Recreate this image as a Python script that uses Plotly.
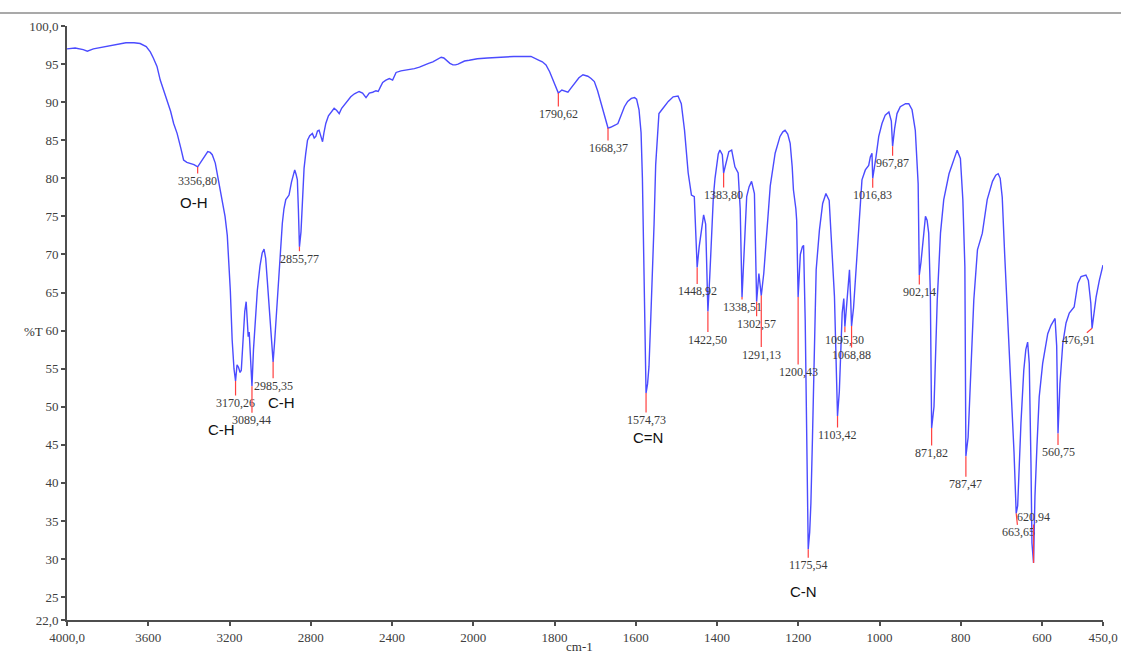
import numpy as np
import plotly.graph_objects as go

# ---------------- data ----------------
wavenumber = [
    4000, 3960, 3920, 3900, 3870, 3830, 3790, 3750, 3710, 3670, 3640, 3610, 3590, 3575, 3557, 3541,
    3525, 3508, 3490, 3475, 3458, 3440, 3426, 3410, 3393, 3375, 3356.8, 3340, 3327, 3307, 3295, 3285,
    3270, 3261, 3248, 3236, 3222, 3211, 3203, 3196, 3187, 3178, 3170.26, 3163, 3156, 3148, 3142, 3135,
    3125, 3118, 3112, 3108, 3103, 3097, 3089.44, 3082, 3072, 3063, 3050, 3039, 3030, 3022, 3014, 3006,
    2998, 2990, 2985.35, 2978, 2968, 2956, 2948, 2940, 2932, 2923, 2915, 2907, 2895, 2885, 2879, 2872,
    2866, 2861, 2855.77, 2848, 2841, 2833, 2825, 2816, 2805, 2792, 2783, 2775, 2767, 2759, 2750, 2742,
    2735, 2726, 2713, 2701, 2685, 2672, 2660, 2648, 2636, 2620, 2603, 2585, 2562, 2545, 2528, 2512,
    2495, 2479, 2468, 2457, 2446, 2430, 2413, 2397, 2380, 2356, 2331, 2310, 2290, 2265, 2241, 2220,
    2199, 2180, 2158, 2145, 2133, 2115, 2100, 2088, 2075, 2060, 2043, 2020, 1990, 1965, 1940, 1900,
    1858, 1848, 1838, 1830, 1821, 1812, 1804, 1796, 1790.62, 1782, 1776, 1767, 1760, 1751, 1740, 1730,
    1718, 1710, 1702, 1694, 1685, 1678, 1673, 1668.37, 1662, 1656, 1650, 1644, 1636, 1628, 1620, 1611,
    1603, 1598, 1592, 1587, 1583.7, 1580, 1576.5, 1574.73, 1571, 1567.5, 1563, 1559, 1555, 1551, 1547, 1543,
    1533, 1520, 1508, 1496, 1488, 1480, 1471, 1463, 1456, 1451, 1448.92, 1444, 1438, 1433, 1428, 1425,
    1422.5, 1418, 1413, 1409, 1405, 1401, 1397, 1393, 1387, 1383.8, 1380, 1377, 1371, 1364, 1360, 1356,
    1348, 1343, 1338.51, 1333, 1327, 1321, 1315, 1308, 1305, 1302.57, 1297, 1291.13, 1285, 1278, 1269, 1257,
    1245, 1238, 1232.6, 1226, 1220, 1215, 1212, 1206, 1204, 1200.43, 1195, 1190, 1187, 1183, 1180, 1177.5,
    1175.54, 1172, 1169, 1165, 1161, 1156, 1148, 1140, 1132, 1124, 1119, 1111, 1105.5, 1103.42, 1099, 1096,
    1092, 1088, 1085.3, 1080, 1074, 1071, 1068.88, 1064, 1059.7, 1051.4, 1043.3, 1035, 1026.7, 1022.7, 1018.6, 1016.83,
    1012, 1008.7, 1002, 994, 986, 977, 971, 967.87, 963, 957, 949, 936, 928, 920, 912, 905,
    902.14, 898, 891, 887, 883, 879, 875, 871.82, 866, 862, 858, 850, 842, 829, 817, 809,
    801, 795, 790, 787.47, 782, 778, 773, 768, 759, 747, 735, 722, 714, 708, 703, 698,
    692, 685, 677, 669, 663.65, 660, 656, 652, 645, 640, 635.5, 631.5, 627.3, 624.9, 620.94, 617.5,
    612.6, 607, 598.5, 586, 578, 568, 564, 560.75, 556, 553, 549, 541, 533, 521, 512, 504,
    492, 486, 480, 476.91, 467, 459, 450,
]
transmittance = [
    97.0, 97.1, 96.9, 96.7, 97.0, 97.2, 97.4, 97.6, 97.8, 97.8, 97.7, 97.3, 96.6, 95.8, 94.7, 92.9,
    91.6, 90.3, 88.8, 87.2, 85.9, 84.0, 82.4, 82.1, 82.0, 81.8, 81.5, 82.2, 82.8, 83.5, 83.4, 83.1,
    82.0, 80.7, 79.0, 77.2, 75.0, 72.5, 69.0, 65.3, 58.8, 55.0, 53.4, 55.5, 55.2, 54.5, 54.8, 58.0,
    62.5, 63.8, 61.5, 59.2, 59.8, 56.0, 52.7, 57.5, 62.0, 65.3, 68.5, 70.2, 70.7, 69.5, 66.6, 63.5,
    60.5, 57.5, 55.9, 58.5, 63.0, 67.5, 71.0, 74.1, 76.0, 77.2, 77.5, 77.8, 79.5, 80.8, 81.1, 80.5,
    79.8, 76.0, 71.0, 73.0, 76.3, 81.3, 83.2, 85.0, 85.6, 85.9, 85.3, 85.5, 86.2, 86.3, 85.5, 84.8,
    86.0, 87.2, 88.2, 88.7, 89.2, 88.9, 88.5, 89.2, 89.6, 90.2, 90.7, 91.1, 91.4, 91.2, 90.6, 91.2,
    91.3, 91.5, 91.4, 92.0, 92.6, 92.9, 93.1, 92.9, 93.9, 94.1, 94.2, 94.3, 94.4, 94.6, 94.9, 95.1,
    95.3, 95.6, 95.9, 95.8, 95.5, 95.1, 94.9, 94.9, 95.0, 95.2, 95.4, 95.5, 95.7, 95.8, 95.9, 96.0,
    96.0, 95.8, 95.5, 95.3, 94.9, 94.0, 92.9, 92.0, 91.2, 91.6, 91.5, 91.3, 91.8, 92.5, 93.2, 93.6,
    93.4, 93.1, 92.7, 91.5, 89.8, 88.2, 87.2, 86.6, 86.7, 86.8, 87.0, 87.2, 88.3, 89.4, 90.1, 90.5,
    90.6, 90.4, 89.0, 86.0, 80.0, 66.5, 55.0, 51.8, 53.0, 55.3, 61.8, 67.1, 74.0, 81.8, 85.5, 88.5,
    89.2, 90.1, 90.7, 90.8, 89.8, 86.3, 80.7, 77.8, 77.6, 72.3, 68.3, 71.0, 73.6, 75.2, 74.0, 68.5,
    62.5, 67.0, 73.0, 77.6, 80.0, 82.0, 83.2, 83.7, 83.1, 80.7, 81.5, 82.5, 83.5, 83.7, 82.8, 81.5,
    80.7, 76.0, 64.4, 70.0, 77.6, 78.9, 79.6, 78.0, 71.0, 63.8, 67.5, 64.6, 67.5, 73.0, 79.0, 83.3,
    85.5, 86.1, 86.3, 85.8, 84.6, 81.5, 78.5, 76.0, 74.5, 64.4, 70.0, 71.0, 71.2, 61.4, 48.0, 37.8,
    31.3, 33.5, 37.3, 46.1, 57.0, 68.0, 73.2, 76.7, 78.0, 77.1, 72.3, 64.5, 53.0, 48.8, 52.0, 57.0,
    62.3, 64.2, 60.5, 64.0, 68.0, 64.0, 60.6, 63.0, 66.6, 74.5, 79.8, 81.1, 81.7, 82.8, 83.3, 80.0,
    81.5, 82.8, 85.5, 87.2, 88.3, 88.7, 87.5, 84.2, 86.5, 88.5, 89.4, 89.8, 89.8, 89.0, 86.3, 79.3,
    67.3, 69.0, 72.8, 75.0, 74.5, 72.8, 65.0, 47.2, 50.0, 56.1, 64.0, 72.8, 77.2, 80.6, 82.6, 83.7,
    82.6, 77.2, 68.4, 43.5, 46.0, 50.9, 57.5, 64.0, 70.6, 72.8, 77.2, 79.6, 80.4, 80.6, 80.0, 77.5,
    70.0, 61.0, 53.0, 44.0, 36.0, 37.0, 42.6, 47.8, 54.8, 57.5, 58.5, 55.7, 42.6, 32.1, 29.5, 38.2,
    44.8, 51.3, 55.7, 59.6, 60.7, 61.6, 58.0, 46.5, 53.0, 55.7, 58.3, 61.0, 62.3, 63.1, 66.2, 67.1,
    67.3, 66.6, 63.6, 60.3, 64.4, 66.6, 68.6,
]

# labelled peaks: position (cm-1), %T at the minimum, printed label
peak_wn = [3356.80, 3170.26, 3089.44, 2985.35, 2855.77, 1790.62, 1668.37, 1574.73, 1448.92, 1422.50,
           1383.80, 1338.51, 1302.57, 1291.13, 1200.43, 1175.54, 1103.42, 1085.30, 1068.88, 1016.83,
           967.87, 902.14, 871.82, 787.47, 663.65, 620.94, 560.75, 476.91]
peak_t = [81.5, 53.4, 52.7, 55.9, 71.0, 91.2, 86.6, 51.8, 68.3, 62.5,
          80.7, 64.4, 63.8, 64.6, 64.4, 31.3, 48.8, 60.5, 60.6, 80.0,
          84.2, 67.3, 47.2, 43.5, 36.0, 29.5, 46.5, 60.3]
peak_labels = ["3356,80", "3170,26", "3089,44", "2985,35", "2855,77", "1790,62", "1668,37", "1574,73",
               "1448,92", "1422,50", "1383,80", "1338,51", "1302,57", "1291,13", "1200,43", "1175,54",
               "1103,42", "1095,30", "1068,88", "1016,83", "967,87", "902,14", "871,82", "787,47",
               "663,65", "620,94", "560,75", "476,91"]
# label offsets from the peak, in pixels (dx, dy downwards)
peak_offsets = [(0, 14), (0, 22), (0, 34), (0, 24), (0, 12), (0, 21), (0, 20), (0, 27), (0, 24), (0, 28),
                (0, 22), (0, 10), (0, 22), (0, 59), (0, 75), (0, 16), (0, 19), (0, 13), (0, 29), (0, 17),
                (0, 17), (0, 17), (0, 25), (0, 28), (2, 19), (0, -46), (0, 19), (-14, 12)]

# functional-group labels: text, wavenumber, %T
group_text = ["O-H", "C-H", "C-H", "C=N", "C-N"]
group_wn = [3375, 3237, 2946, 1570, 1188]
group_t = [76.8, 47.0, 50.6, 45.9, 25.7]

xtick_values = [4000, 3600, 3200, 2800, 2400, 2000, 1800, 1600, 1400, 1200, 1000, 800, 600, 450]
xtick_labels = ["4000,0", "3600", "3200", "2800", "2400", "2000", "1800", "1600", "1400", "1200",
                "1000", "800", "600", "450,0"]
ytick_values = [22, 25, 30, 35, 40, 45, 50, 55, 60, 65, 70, 75, 80, 85, 90, 95, 100]
ytick_labels = ["22,0", "25", "30", "35", "40", "45", "50", "55", "60", "65", "70", "75", "80",
                "85", "90", "95", "100,0"]


# the instrument's axis doubles its scale below 2000 cm-1
def axis_pos(wn):
    wn = np.asarray(wn, dtype=float)
    return np.where(wn >= 2000, wn, 2 * wn - 2000)


SERIF = "Liberation Serif, Times New Roman, serif"
SANS = "Liberation Sans, Arial, sans-serif"

fig = go.Figure()
fig.add_trace(go.Scatter(
    x=axis_pos(wavenumber), y=transmittance, mode="lines",
    line=dict(color="#4b4bff", width=1.4), hoverinfo="skip", showlegend=False,
))

annotations = []
for wn, t, lab, (dx, dy) in zip(peak_wn, peak_t, peak_labels, peak_offsets):
    annotations.append(dict(
        x=float(axis_pos(wn)), y=t, xref="x", yref="y", text=lab,
        showarrow=True, arrowhead=0, arrowwidth=1.2, arrowcolor="#ff4040",
        ax=dx, ay=dy, standoff=0, startstandoff=0,
        font=dict(family=SERIF, size=12, color="#3a3a3a"), borderpad=0,
    ))
for txt, wn, t in zip(group_text, group_wn, group_t):
    annotations.append(dict(
        x=float(axis_pos(wn)), y=t, xref="x", yref="y", text=txt, showarrow=False,
        font=dict(family=SANS, size=15, color="#111111"),
    ))
annotations.append(dict(x=-0.0434, y=0.4865, xref="paper", yref="paper", text="%T",
                        showarrow=False, font=dict(family=SERIF, size=13, color="#333333")))
annotations.append(dict(x=0.495, y=-0.0606, xref="paper", yref="paper", text="cm-1",
                        showarrow=False, font=dict(family=SERIF, size=13, color="#333333")))

fig.update_layout(
    width=1121, height=661,
    margin=dict(l=67, r=18, t=26, b=41, autoexpand=False),
    paper_bgcolor="white", plot_bgcolor="white",
    annotations=annotations,
    shapes=[dict(type="line", xref="paper", yref="paper", x0=-0.07, x1=1.02, y0=1.0219, y1=1.0219,
                 line=dict(color="#555555", width=1.2))],
    xaxis=dict(
        range=[4000, float(axis_pos(450))], tickmode="array",
        tickvals=axis_pos(xtick_values).tolist(), ticktext=xtick_labels, automargin=False,
        showgrid=False, zeroline=False, showline=True, linecolor="#4d4d4d", linewidth=2,
        ticks="outside", ticklen=4, tickcolor="#4d4d4d", tickwidth=1.5,
        tickfont=dict(family=SERIF, size=13, color="#404040"),
    ),
    yaxis=dict(
        range=[22, 100], tickmode="array", tickvals=ytick_values, ticktext=ytick_labels,
        automargin=False,
        showgrid=False, zeroline=False, showline=True, linecolor="#4d4d4d", linewidth=2,
        ticks="outside", ticklen=4, tickcolor="#4d4d4d", tickwidth=1.5,
        tickfont=dict(family=SERIF, size=13, color="#404040"),
    ),
)

fig.write_html("out.html", config={"displayModeBar": False},
               post_script="document.body.style.margin='0px';")
